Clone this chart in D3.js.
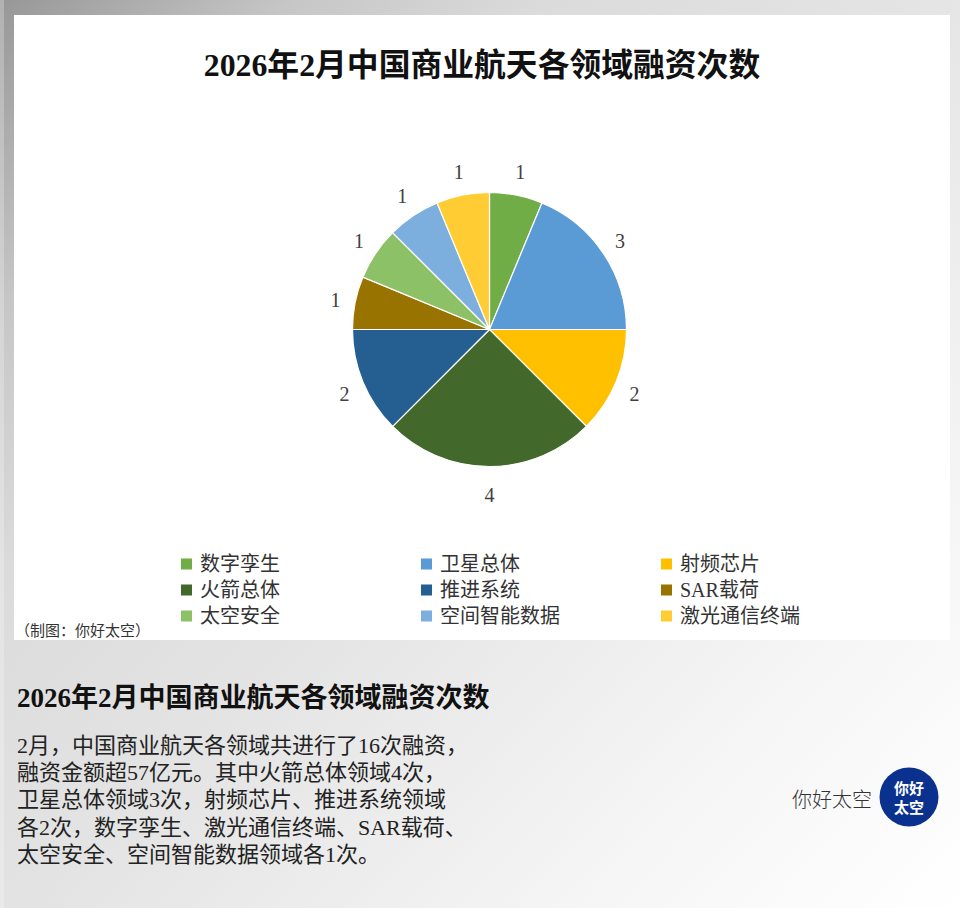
<!DOCTYPE html>
<html><head><meta charset="utf-8">
<script src="https://cdn.jsdelivr.net/npm/d3@7/dist/d3.min.js"></script>
<style>
html,body{margin:0;padding:0;background:#fff;}
svg{display:block;}
</style></head>
<body>
<script>
const categories = ["数字孪生","卫星总体","射频芯片","火箭总体","推进系统","SAR载荷","太空安全","空间智能数据","激光通信终端"];
const values = [1,3,2,4,2,1,1,1,1];
const colors = ["#70AD47","#5B9BD5","#FFC000","#43682B","#255E91","#997300","#8CC168","#7CAFDD","#FFCD33"];
const chartTitle = "2026年2月中国商业航天各领域融资次数";
const credit = "（制图：你好太空）";
const bodyLines = [
  "2月，中国商业航天各领域共进行了16次融资，",
  "融资金额超57亿元。其中火箭总体领域4次，",
  "卫星总体领域3次，射频芯片、推进系统领域",
  "各2次，数字孪生、激光通信终端、SAR载荷、",
  "太空安全、空间智能数据领域各1次。"
];
const brand = "你好太空";

const W = 960, H = 908;
const serif = "'Liberation Serif','DejaVu Serif','Noto Sans CJK SC',serif";
const svg = d3.select("body").append("svg").attr("width", W).attr("height", H);
const defs = svg.append("defs");
const g = defs.append("linearGradient").attr("id","bg")
  .attr("gradientUnits","userSpaceOnUse").attr("x1",0).attr("y1",0).attr("x2",W).attr("y2",H);
[[0,"#979797"],[0.16,"#c6c6c6"],[0.3,"#dbdbdb"],[0.5,"#e4e4e4"],[0.8,"#f6f6f6"],[1,"#ffffff"]]
  .forEach(([o,c]) => g.append("stop").attr("offset",o).attr("stop-color",c));
svg.append("rect").attr("width",W).attr("height",H).attr("fill","url(#bg)");
svg.append("rect").attr("x",0).attr("y",0).attr("width",4).attr("height",H).attr("fill","#fff").attr("opacity",0.25);

// card
svg.append("rect").attr("x",14).attr("y",15).attr("width",936).attr("height",625).attr("fill","#fff");

svg.append("text").attr("x",482).attr("y",76).attr("text-anchor","middle")
  .attr("font-family",serif).attr("font-weight","bold").attr("font-size",31.8)
  .attr("fill","#111").text(chartTitle);

// pie
const cx = 489.5, cy = 329.5, R = 137;
const pie = d3.pie().sort(null).value(d => d.v);
const data = pie(categories.map((c,i) => ({c, v: values[i], col: colors[i]})));
const arc = d3.arc().innerRadius(0).outerRadius(R);
const pg = svg.append("g").attr("transform",`translate(${cx},${cy})`);
pg.selectAll("path").data(data).join("path")
  .attr("d", arc).attr("fill", d => d.data.col)
  .attr("stroke","#fff").attr("stroke-width",1.2);
const rx = 157, ry = 163;
pg.selectAll("text").data(data).join("text")
  .attr("transform", d => {
    const a = (d.startAngle + d.endAngle) / 2;
    return `translate(${rx * Math.sin(a)},${-ry * Math.cos(a) + 2.5})`;
  })
  .attr("text-anchor","middle").attr("dominant-baseline","central")
  .attr("font-family",serif).attr("font-size",20).attr("fill","#404040")
  .text(d => d.data.v);

// legend
const lg = svg.append("g");
categories.forEach((c,i) => {
  const col = i % 3, row = Math.floor(i / 3);
  const x = 181 + col * 240, y = 564 + row * 26;
  lg.append("rect").attr("x", x).attr("y", y - 5.5).attr("width",11).attr("height",11).attr("fill", colors[i]);
  lg.append("text").attr("x", x + 19).attr("y", y).attr("dominant-baseline","central")
    .attr("font-family",serif).attr("font-size",20).attr("fill","#333").text(c);
});

svg.append("text").attr("x",15).attr("y",629).attr("dominant-baseline","central")
  .attr("font-family","'Noto Sans CJK SC',sans-serif").attr("font-size",15).attr("fill","#333").text(credit);

// bottom section
svg.append("text").attr("x",17).attr("y",707)
  .attr("font-family",serif).attr("font-weight","bold").attr("font-size",27)
  .attr("fill","#111").text(chartTitle);
const bt = svg.append("text").attr("font-family",serif).attr("font-size",22).attr("fill","#222");
bodyLines.forEach((l,i) => {
  bt.append("tspan").attr("x",17).attr("y",753 + i*27.2).text(l);
});

svg.append("text").attr("x",872).attr("y",798).attr("text-anchor","end").attr("dominant-baseline","central")
  .attr("font-family","'Noto Sans CJK SC',sans-serif").attr("font-weight",300).attr("font-size",20)
  .attr("fill","#333").text(brand);
svg.append("circle").attr("cx",909).attr("cy",797).attr("r",29.5).attr("fill","#0b318f");
svg.append("text").attr("x",909).attr("y",787).attr("text-anchor","middle").attr("dominant-baseline","central")
  .attr("font-family","'Noto Sans CJK SC',sans-serif").attr("font-weight","bold").attr("font-size",15)
  .attr("fill","#fff").text("你好");
svg.append("text").attr("x",909).attr("y",806).attr("text-anchor","middle").attr("dominant-baseline","central")
  .attr("font-family","'Noto Sans CJK SC',sans-serif").attr("font-weight","bold").attr("font-size",15)
  .attr("fill","#fff").text("太空");
</script>
</body></html>
